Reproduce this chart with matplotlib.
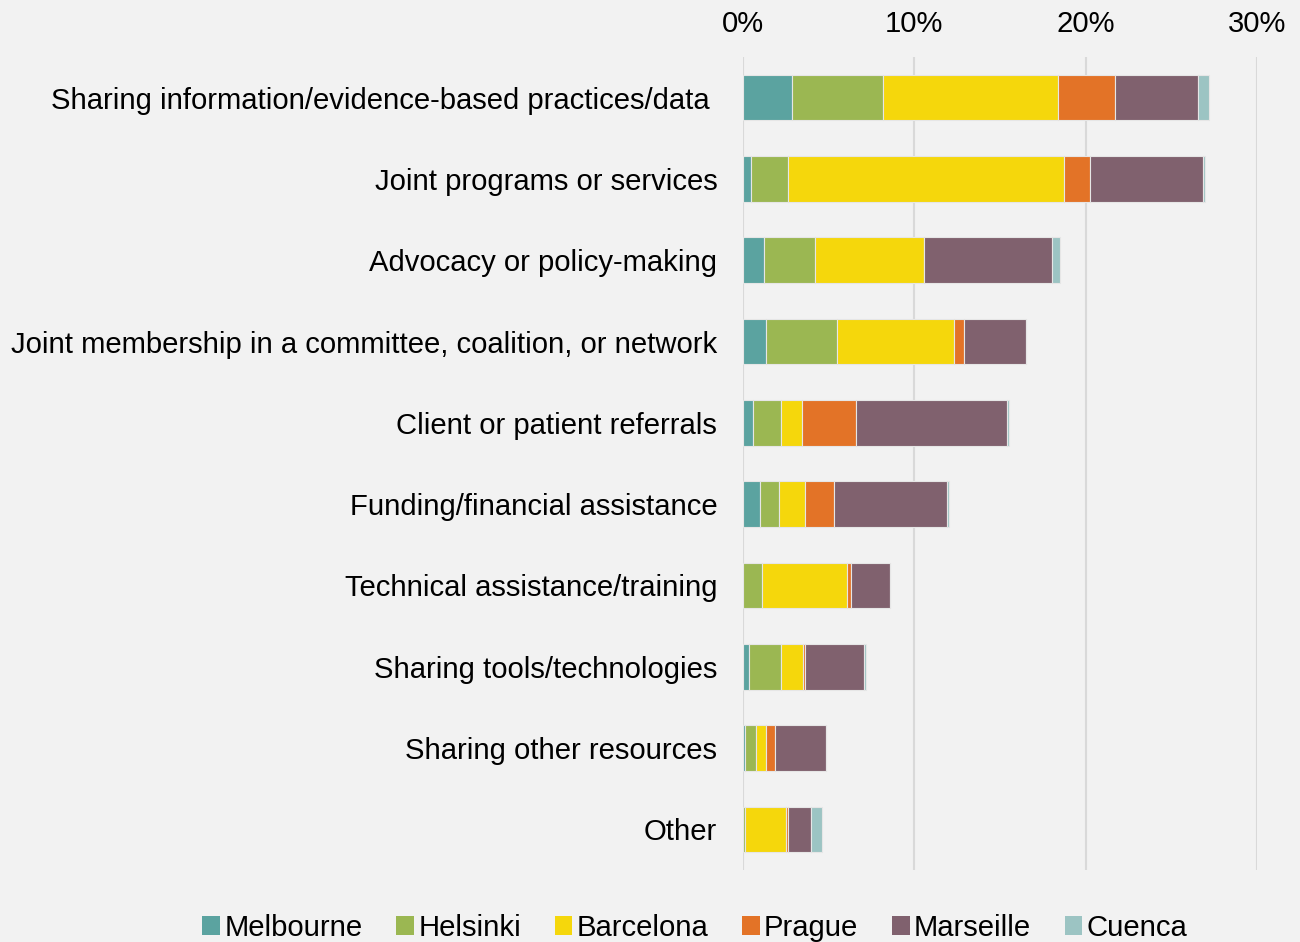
import matplotlib
matplotlib.use("Agg")
import matplotlib.pyplot as plt
from matplotlib.patches import Patch
import numpy as np

categories = [
    "Sharing information/evidence-based practices/data ",
    "Joint programs or services",
    "Advocacy or policy-making",
    "Joint membership in a committee, coalition, or network",
    "Client or patient referrals",
    "Funding/financial assistance",
    "Technical assistance/training",
    "Sharing tools/technologies",
    "Sharing other resources",
    "Other",
]
cities = ["Melbourne", "Helsinki", "Barcelona", "Prague", "Marseille", "Cuenca"]
melbourne = [2.86, 0.49, 1.23, 1.34, 0.60, 0.99, 0.00, 0.35, 0.12, 0.00]
helsinki  = [5.31, 2.12, 2.98, 4.12, 1.61, 1.11, 1.11, 1.87, 0.62, 0.12]
barcelona = [10.21, 16.13, 6.36, 6.83, 1.26, 1.50, 4.98, 1.26, 0.62, 2.37]
prague    = [3.35, 1.52, 0.00, 0.62, 3.11, 1.73, 0.23, 0.14, 0.53, 0.12]
marseille = [4.82, 6.60, 7.45, 3.60, 8.81, 6.58, 2.24, 3.42, 2.96, 1.34]
cuenca    = [0.64, 0.08, 0.49, 0.02, 0.12, 0.12, 0.00, 0.16, 0.00, 0.64]
series = [melbourne, helsinki, barcelona, prague, marseille, cuenca]
colors = ["#5BA3A0", "#9BB752", "#F5D70C", "#E37327", "#80616E", "#9CC4C3"]
xticks = [0, 10, 20, 30]
xtick_labels = ["0%", "10%", "20%", "30%"]

plt.rcParams['font.family'] = ['Liberation Sans', 'DejaVu Sans']
bg = "#f2f2f2"
fs = 21.1
fig = plt.figure(figsize=(13, 9.42), dpi=100, facecolor=bg)
ax = fig.add_axes([743/1300, 1-870/942, 514/1300, 813/942], facecolor=bg)

y = np.arange(len(categories))
left = np.zeros(len(categories))
for vals, col, name in zip(series, colors, cities):
    v = np.array(vals)
    ax.barh(y, v, left=left, height=0.56, color=col, edgecolor="#e6e6e6",
            linewidth=0.8, label=name, zorder=3)
    left += v

ax.set_ylim(len(categories) - 0.5, -0.5)
ax.set_xlim(0, 30)
ax.set_yticks(y)
ax.set_yticklabels(categories, fontsize=fs)
ax.set_xticks(xticks)
ax.set_xticklabels(xtick_labels, fontsize=fs)
ax.xaxis.tick_top()
ax.tick_params(axis='both', length=0)
ax.tick_params(axis='x', pad=14)
ax.tick_params(axis='y', pad=18.5)
for s in ax.spines.values():
    s.set_visible(False)
ax.grid(axis='x', color="#d9d9d9", linewidth=1.5, zorder=0)
ax.set_axisbelow(True)

handles = [Patch(facecolor=c, edgecolor='none') for c in colors]
fig.legend(handles, cities, loc='center', bbox_to_anchor=(695/1300, 1-928/942),
           ncol=6, frameon=False, fontsize=fs, handlelength=0.6, handleheight=0.6,
           handletextpad=0.15, columnspacing=1.15, borderpad=0)

fig.savefig("out.png", dpi=100, facecolor=bg)
